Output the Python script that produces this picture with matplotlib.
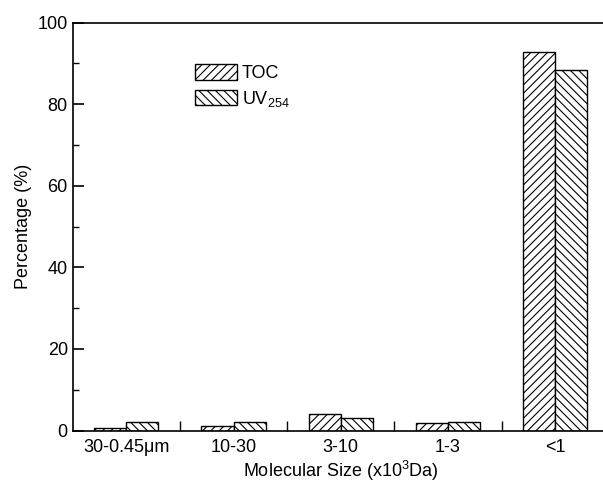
import numpy as np
import matplotlib
matplotlib.use("Agg")
import matplotlib.pyplot as plt
from matplotlib.ticker import MultipleLocator, FixedLocator

plt.rcParams['font.family'] = ['Liberation Sans', 'DejaVu Sans']
plt.rcParams['mathtext.fontset'] = 'custom'
plt.rcParams['mathtext.rm'] = 'Liberation Sans'
plt.rcParams['mathtext.it'] = 'Liberation Sans'
plt.rcParams['hatch.linewidth'] = 0.8

# data
categorias = ['30-0.45\u03bcm', '10-30', '3-10', '1-3', '<1']
toc = [0.6, 1.2, 4.0, 1.8, 92.7]
uv254 = [2.0, 2.1, 3.0, 2.1, 88.3]

fig = plt.figure(figsize=(6.03, 4.84), dpi=100)
ax = fig.add_axes([0.1206, 0.1105, 0.889, 0.8426])

x = np.arange(len(categorias))
larg = 0.3
ax.bar(x - larg / 2, toc, larg, color='white', edgecolor='black',
       linewidth=1.0, hatch='////', label='TOC')
ax.bar(x + larg / 2, uv254, larg, color='white', edgecolor='black',
       linewidth=1.0, hatch='\\\\\\\\', label='UV$_{254}$')

ax.set_xlim(-0.5, 4.5)
ax.set_ylim(0, 100)
ax.set_xticks(x)
ax.set_xticklabels(categorias)
ax.xaxis.set_minor_locator(FixedLocator(x[:-1] + 0.5))
ax.yaxis.set_major_locator(MultipleLocator(20))
ax.yaxis.set_minor_locator(MultipleLocator(10))

ax.tick_params(axis='x', which='major', length=0, labelsize=13, pad=6)
ax.tick_params(axis='x', which='minor', direction='in', length=7, width=1)
ax.tick_params(axis='y', which='major', direction='in', length=8, width=1.2, labelsize=13)
ax.tick_params(axis='y', which='minor', direction='in', length=4, width=1)
for s in ax.spines.values():
    s.set_linewidth(1.2)

ax.set_xlabel('Molecular Size (x10$^3$Da)', fontsize=13, labelpad=2)
ax.set_ylabel('Percentage (%)', fontsize=13, labelpad=4)

ax.legend(loc='upper left', bbox_to_anchor=(195 / 603, 1 - 64 / 484),
          bbox_transform=fig.transFigure, frameon=False, fontsize=13,
          handlelength=2.3, handleheight=0.95, handletextpad=0.3,
          labelspacing=0.38, borderpad=0, borderaxespad=0)

fig.savefig('out.png', dpi=100)
